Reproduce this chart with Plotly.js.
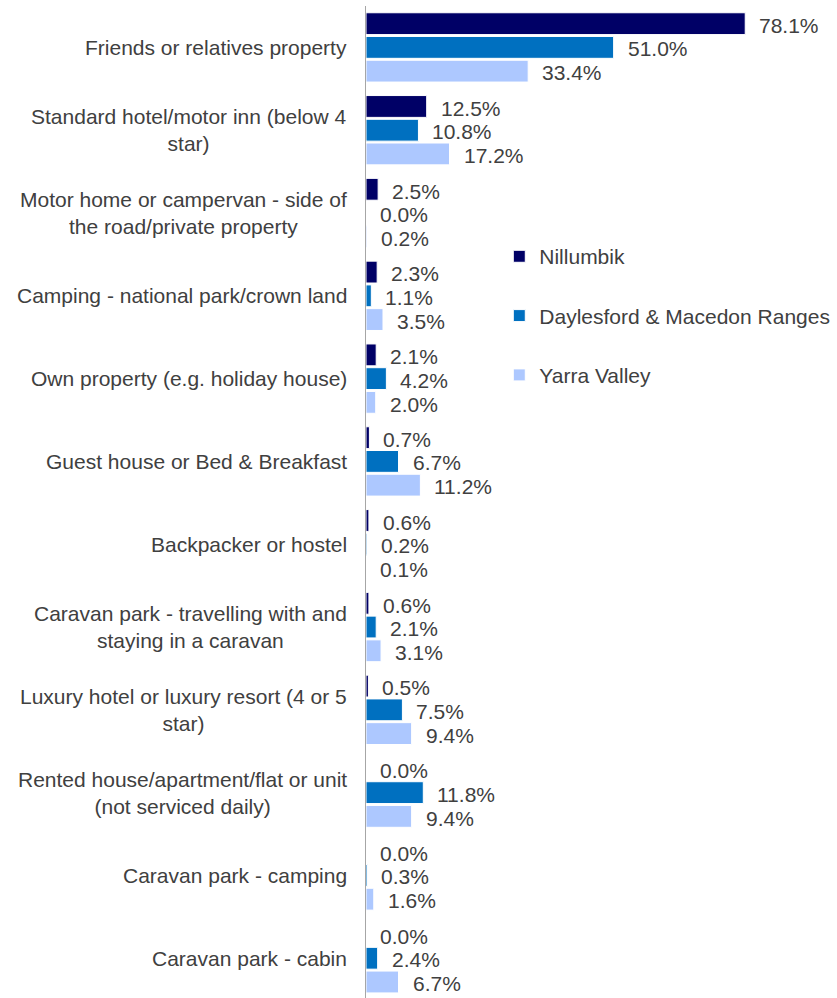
<!DOCTYPE html>
<html>
<head>
<meta charset="utf-8">
<script src="https://cdn.plot.ly/plotly-3.0.1.min.js"></script>
<style>html,body{margin:0;padding:0;background:#fff;}#chart{width:837px;height:998px;}</style>
</head>
<body>
<div id="chart"></div>
<script>
const categories = [
  "Friends or relatives property",
  "Standard hotel/motor inn (below 4<br>star)",
  "Motor home or campervan - side of<br>the road/private property",
  "Camping - national park/crown land",
  "Own property (e.g. holiday house)",
  "Guest house or Bed & Breakfast",
  "Backpacker or hostel",
  "Caravan park - travelling with and<br>staying in a caravan",
  "Luxury hotel or luxury resort (4 or 5<br>star)",
  "Rented house/apartment/flat or unit<br>(not serviced daily)",
  "Caravan park - camping",
  "Caravan park - cabin"
];
const seriesNames = ["Nillumbik", "Daylesford & Macedon Ranges", "Yarra Valley"];
const nillumbik  = [78.1, 12.5, 2.5, 2.3, 2.1, 0.7, 0.6, 0.6, 0.5, 0.0, 0.0, 0.0];
const daylesford = [51.0, 10.8, 0.0, 1.1, 4.2, 6.7, 0.2, 2.1, 7.5, 11.8, 0.3, 2.4];
const yarra      = [33.4, 17.2, 0.2, 3.5, 2.0, 11.2, 0.1, 3.1, 9.4, 9.4, 1.6, 6.7];
const seriesValues = [nillumbik, daylesford, yarra];
const colors = ["#000066", "#0070C0", "#ADC8FF"];

const textColor = "#404040";
const fontFam = "Arial, 'Liberation Sans', sans-serif";

const traces = seriesValues.map((vals, i) => ({
  type: "bar",
  orientation: "h",
  name: seriesNames[i],
  legendgroup: "g" + i,
  x: vals,
  y: categories,
  marker: {color: colors[i], line: {color: "#ffffff", width: 1}},
  hoverinfo: "skip"
}));

const annotations = [];
const yShifts = [22, -1.5, -25.5];
seriesValues.forEach((vals, i) => {
  vals.forEach((v, j) => {
    annotations.push({
      xref: "x", yref: "y", x: v, y: categories[j],
      text: v.toFixed(1) + "%",
      showarrow: false, xanchor: "left", yanchor: "middle",
      xshift: 12, yshift: yShifts[i],
      font: {family: fontFam, size: 21, color: textColor}
    });
  });
});
categories.forEach((c, j) => {
  annotations.push({
    xref: "paper", yref: "y", x: 0, y: c,
    text: c, showarrow: false, xanchor: "right", yanchor: "middle",
    align: "center", xshift: -17,
    font: {family: fontFam, size: 21, color: textColor}
  });
});

const layout = {
  width: 837, height: 998,
  margin: {l: 366, r: 34, t: 6, b: 0, pad: 0, autoexpand: false},
  paper_bgcolor: "#ffffff", plot_bgcolor: "#ffffff",
  barmode: "group", bargap: 0.14, bargroupgap: 0.08,
  font: {family: fontFam, size: 21, color: textColor},
  showlegend: true,
  legend: {
    x: 0.305, y: 0.768, xanchor: "left", yanchor: "top",
    traceorder: "grouped", tracegroupgap: 29,
    font: {family: fontFam, size: 21, color: textColor},
    bgcolor: "rgba(0,0,0,0)", itemwidth: 30
  },
  xaxis: {range: [0, 90], visible: false, showgrid: false, zeroline: false, fixedrange: true},
  yaxis: {
    type: "category", autorange: false, range: [11.48, -0.5],
    showticklabels: false, ticks: "", showgrid: false, zeroline: false,
    showline: true, linecolor: "#A6A6A6", linewidth: 1.5, fixedrange: true
  },
  annotations: annotations
};

Plotly.newPlot("chart", traces, layout, {displayModeBar: false, staticPlot: true});
</script>
</body>
</html>
